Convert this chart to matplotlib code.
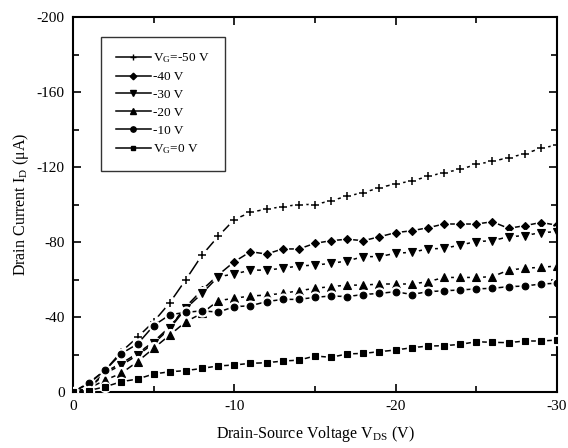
import numpy as np
import matplotlib; matplotlib.use('Agg')
import matplotlib.pyplot as plt
from matplotlib.ticker import MultipleLocator

plt.rcParams['font.family'] = ['Liberation Serif', 'DejaVu Serif']
plt.rcParams['mathtext.fontset'] = 'custom'
plt.rcParams['mathtext.rm'] = 'Liberation Serif'
plt.rcParams['mathtext.it'] = 'Liberation Serif'
plt.rcParams['axes.unicode_minus'] = False

# drain-source voltage (V), 1 V steps
vds = -np.arange(0, 31, 1)

# drain current (uA) for each gate voltage
id_m50 = [0, 5, 11.7, 21.5, 29.2, 37.5, 47.6, 60, 73, 83, 92,
          95.8, 97.6, 98.8, 100, 100, 102, 104.5, 106.3, 109, 111,
          112.5, 115, 117, 118.7, 121.4, 123, 125, 127, 130, 131.7]
id_m40 = [0, 2, 10.8, 15.3, 20.6, 26.8, 34.8, 45.5, 54.4, 62.4, 69.5,
          74.8, 73.6, 76.3, 76.3, 79.3, 80.7, 81.5, 80.7, 82.8, 85,
          86, 87.6, 89.6, 89.6, 89.6, 90.8, 87.3, 88.7, 90.4, 89]
id_m30 = [0, 2, 10, 14.4, 19.6, 25.9, 33.9, 44.6, 52.6, 61.5, 62.9,
          65, 65, 66, 67.2, 67.7, 68.6, 69.9, 72.2, 72.2, 74,
          74.5, 76.3, 76.6, 78.4, 80.2, 80.7, 82.8, 83.4, 85, 85.5]
id_m20 = [0, 2, 6.4, 10, 16.2, 23.3, 30.4, 37.5, 42, 48.7, 50,
          51.2, 51.7, 52.6, 54, 55.3, 56.2, 57, 57, 57.6, 57.6,
          57.6, 58.8, 61.1, 61.1, 61.1, 61.5, 65, 66, 66.5, 67.2]
id_m10 = [0, 4.6, 11.7, 20.5, 25.6, 35.4, 41.2, 42.5, 43.3, 42.6, 45.5,
          46, 48.2, 49.4, 49.4, 50.5, 51.2, 50.9, 52, 52.6, 53.5,
          52, 53.5, 54, 54.4, 55, 55.3, 56.2, 56.5, 57.6, 58]
id_0 = [0, 0.8, 2.8, 5.5, 6.9, 9.6, 10.8, 11.4, 12.6, 13.9, 14.4,
        15.3, 15.6, 16.5, 17, 19.2, 18.5, 20.3, 20.6, 21.5, 22.4,
        23.6, 24.5, 24.7, 25.4, 26.8, 26.5, 26.3, 27.2, 27.2, 27.7]

series = [
    (id_m50, '+', r'V$_{\mathrm{G}}$=-50 V', 6),
    (id_m40, 'D', '-40 V', 4.2),
    (id_m30, 'v', '-30 V', 5.5),
    (id_m20, '^', '-20 V', 5.5),
    (id_m10, 'o', '-10 V', 4.8),
    (id_0, 's', r'V$_{\mathrm{G}}$=0 V', 4.2),
]

fig = plt.figure(figsize=(5.68, 4.48), dpi=100)
ax = fig.add_axes([0.1285, 0.125, 0.852, 0.837])

handles = []
for k, (cur, mk, lbl, ms) in enumerate(series):
    y = -np.array(cur)
    z = 2 + k * 0.1
    ax.plot(vds, y, '-', color='black', lw=1.1, zorder=z)
    # white halo gives the broken-line look around each marker
    ax.plot(vds, y, 'o', ms=ms + 3, mfc='white', mec='white', zorder=z + 0.01)
    ax.plot(vds, y, linestyle='none', marker=mk, ms=ms, color='black',
            mew=1.1 if mk == '+' else 0.8, zorder=z + 0.02)
    handles.append(plt.Line2D([], [], color='black', lw=1.1, marker=mk,
                              ms=ms * 0.8, mew=1.0, label=lbl))

ax.set_xlim(0, -30)
ax.set_ylim(0, -200)
ax.xaxis.set_major_locator(MultipleLocator(10))
ax.xaxis.set_minor_locator(MultipleLocator(5))
ax.yaxis.set_major_locator(MultipleLocator(40))
ax.yaxis.set_minor_locator(MultipleLocator(20))
ax.tick_params(which='both', direction='in', top=True, right=True,
               labelsize=11, width=1.2)
ax.tick_params(which='major', length=6, pad=6)
ax.tick_params(which='minor', length=4)
for s in ax.spines.values():
    s.set_linewidth(1.5)

ax.set_xlabel(r'Drain-Source Voltage V$_{\mathrm{DS}}$ (V)', fontsize=11.5, labelpad=8)
ax.set_ylabel(r'Drain Current I$_{\mathrm{D}}$ ($\mu$A)', fontsize=11.5, labelpad=4)

leg = ax.legend(handles=handles, loc='upper left', bbox_to_anchor=(0.058, 0.948),
                frameon=True, fancybox=False, edgecolor='black', fontsize=9.5,
                handlelength=2.6, handletextpad=0.2, labelspacing=0.42,
                borderpad=1.15, borderaxespad=0)
leg.get_frame().set_linewidth(1.0)

fig.savefig('out.png', dpi=100)
